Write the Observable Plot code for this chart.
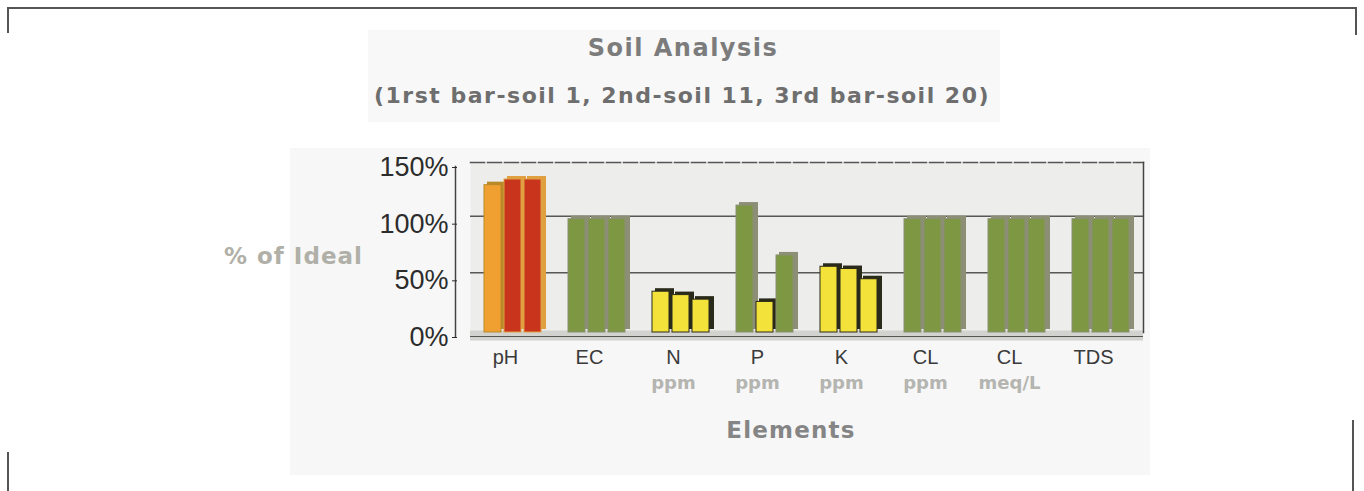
<!DOCTYPE html>
<html>
<head>
<meta charset="utf-8">
<script src="https://cdn.jsdelivr.net/npm/d3@7"></script>
<script src="https://cdn.jsdelivr.net/npm/@observablehq/plot@0.6"></script>
<style>
  html, body { margin: 0; padding: 0; background: #ffffff; }
  body { width: 1364px; height: 491px; position: relative; overflow: hidden; font-family: "DejaVu Sans", sans-serif; }
  .abs { position: absolute; }
  .line { position: absolute; background: #555; }
  #titlePanel { left: 368px; top: 30px; width: 632px; height: 92px; background: #f8f8f8; }
  #chartPanel { left: 290px; top: 148px; width: 860px; height: 327px; background: #f7f7f7; }
  #title { left: 0; width: 1366px; top: 34px; text-align: center; font-weight: bold; font-size: 24px; letter-spacing: 1.5px; color: #7c7c7c; }
  #subtitle { left: 0; width: 1364px; top: 83px; text-align: center; font-weight: bold; font-size: 22px; letter-spacing: 1.5px; color: #6e6e6e; }
  #ylabel { left: 224px; top: 243px; font-weight: bold; font-size: 23px; letter-spacing: 1px; color: #b0b0a8; }
  #xlabel { left: 0; width: 1582px; top: 417px; text-align: center; font-weight: bold; font-size: 23px; letter-spacing: 1.2px; color: #858585; }
  #chart { left: 0; top: 140px; }
</style>
</head>
<body>
<div class="line" style="left:7px;top:7px;width:1350px;height:2px;"></div>
<div class="line" style="left:7px;top:7px;width:2px;height:26px;"></div>
<div class="line" style="left:1355px;top:7px;width:2px;height:28px;"></div>
<div class="line" style="left:7px;top:452px;width:2px;height:39px;"></div>
<div class="line" style="left:1352px;top:420px;width:2px;height:71px;"></div>
<div id="titlePanel" class="abs"></div>
<div id="chartPanel" class="abs"></div>
<div id="title" class="abs">Soil Analysis</div>
<div id="subtitle" class="abs">(1rst bar-soil 1, 2nd-soil 11, 3rd bar-soil 20)</div>
<div id="ylabel" class="abs">% of Ideal</div>
<div id="xlabel" class="abs">Elements</div>
<div id="chart" class="abs"></div>
<script>
// ---- data ----
const elements = ["pH", "EC", "N ppm", "P ppm", "K ppm", "CL ppm", "CL meq/L", "TDS"];
const elementNames = ["pH", "EC", "N", "P", "K", "CL", "CL", "TDS"];
const elementUnits = ["", "", "ppm", "ppm", "ppm", "ppm", "meq/L", ""];
const soils = ["soil 1", "soil 11", "soil 20"];
const soil1Values = [130, 100, 36, 112, 58, 100, 100, 100];
const soil11Values = [135, 100, 33, 27, 56, 100, 100, 100];
const soil20Values = [135, 100, 29, 68, 47, 100, 100, 100];
const soil1Status = ["high", "ideal", "low", "ideal", "low", "ideal", "ideal", "ideal"];
const soil11Status = ["very high", "ideal", "low", "low", "low", "ideal", "ideal", "ideal"];
const soil20Status = ["very high", "ideal", "low", "ideal", "low", "ideal", "ideal", "ideal"];
const yTicks = [0, 50, 100, 150];

const values = [soil1Values, soil11Values, soil20Values];
const statuses = [soil1Status, soil11Status, soil20Status];
const rows = elements.flatMap((e, i) => soils.map((s, j) => ({
  element: e, soil: s, value: values[j][i], status: statuses[j][i]
})));
const nameOf = Object.fromEntries(elements.map((e, i) => [e, elementNames[i]]));
const unitOf = Object.fromEntries(elements.map((e, i) => [e, elementUnits[i]]));

const frontColor = {"low": "#f3e23a", "ideal": "#7d9742", "high": "#f0a030", "very high": "#c9341c"};
const sideColor = {"low": "#2a2a1a", "ideal": "#8c8f76", "high": "#b88a28", "very high": "#e0a040"};

const barInsets = [[13, 52], [33, 32], [53, 12]];
const marks = [
  Plot.frame({fill: "#ededeb"}),
  Plot.ruleY([0], {stroke: "#d2d2ce", strokeWidth: 10, dy: 3}),
  Plot.gridY([50, 100], {stroke: "#3c3c3c", strokeOpacity: 0.85, strokeWidth: 1.5, dy: -3}),
  Plot.frame({anchor: "top", stroke: "#555", strokeWidth: 1.5, strokeDasharray: "14,3"}),
  Plot.frame({anchor: "right", stroke: "#444", strokeWidth: 1.5}),
  Plot.frame({anchor: "left", stroke: "#444", strokeWidth: 1.5, dx: -15, dy: 4}),
  Plot.ruleY([0], {stroke: "#555", strokeWidth: 1, dy: 4}),
];
soils.forEach((s, j) => {
  const d = rows.filter(r => r.soil === s);
  marks.push(Plot.barY(d, {x: "element", y: "value", fill: r => sideColor[r.status],
    insetLeft: barInsets[j][0], insetRight: barInsets[j][1], dx: 3, dy: -3}));
});
soils.forEach((s, j) => {
  const d = rows.filter(r => r.soil === s);
  marks.push(Plot.barY(d, {x: "element", y: "value", fill: r => frontColor[r.status],
    stroke: r => sideColor[r.status], strokeWidth: 1,
    insetLeft: barInsets[j][0], insetRight: barInsets[j][1] + 2}));
});
marks.push(
  Plot.axisY({ticks: yTicks, tickFormat: d => d + "%", dx: -13, dy: 5, tickSize: 5,
    fontSize: 27, color: "#2c2c2c", label: null, fontFamily: "'Liberation Sans', Arial, sans-serif"}),
  Plot.axisX({tickFormat: d => nameOf[d], tickSize: 0, dx: -8, dy: 8, fontSize: 20, color: "#3a3a3a", label: null, fontFamily: "'Liberation Sans', Arial, sans-serif"}),
  Plot.axisX({tickFormat: d => unitOf[d], tickSize: 0, dx: -8, dy: 35, fontSize: 18, fontWeight: "bold", color: "#b4b4b0", label: null, fontFamily: "'DejaVu Sans', sans-serif"})
);

const chart = Plot.plot({
  width: 1364,
  height: 270,
  marginLeft: 470,
  marginRight: 221,
  marginTop: 22,
  marginBottom: 78,
  style: {background: "transparent", fontFamily: "'Liberation Sans', Arial, sans-serif"},
  x: {domain: elements, padding: 0, axis: null},
  y: {domain: [0, 150], axis: null},
  marks
});
document.getElementById("chart").appendChild(chart);
</script>
</body>
</html>
